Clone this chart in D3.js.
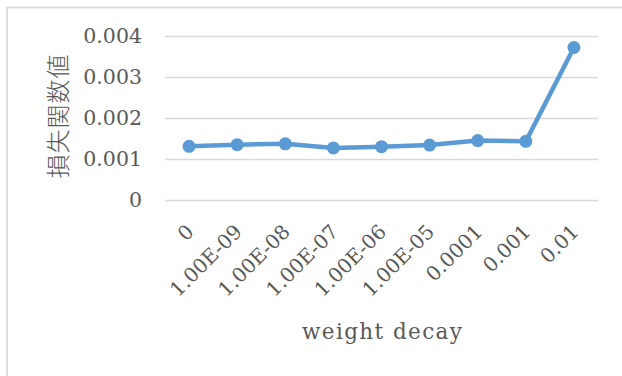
<!DOCTYPE html>
<html>
<head>
<meta charset="utf-8">
<script src="https://cdn.jsdelivr.net/npm/d3@7"></script>
<style>
  html, body { margin: 0; padding: 0; background: #fff; }
  svg { display: block; }
</style>
</head>
<body>
<svg id="chart" width="622" height="376"></svg>
<script>
// weight decay sweep vs. loss value
const categories = ["0", "1.00E-09", "1.00E-08", "1.00E-07", "1.00E-06", "1.00E-05", "0.0001", "0.001", "0.01"];
const lossValues = [0.00131, 0.00135, 0.00137, 0.00127, 0.00130, 0.00134, 0.00145, 0.00143, 0.00372];
const yTicks = [0, 0.001, 0.002, 0.003, 0.004];
const yTickLabels = ["0", "0.001", "0.002", "0.003", "0.004"];
const xTitle = "weight decay";
const yTitle = "損失関数値";

const svg = d3.select("#chart");
const textColor = "#595959";
const serif = "'DejaVu Serif', 'Liberation Serif', serif";

const plot = { left: 165, right: 598, top: 36, bottom: 200 };

// chart frame
svg.append("rect")
  .attr("x", 7).attr("y", 7.5)
  .attr("width", 800).attr("height", 600)
  .attr("fill", "none")
  .attr("stroke", "#d9d9d9")
  .attr("stroke-width", 1.8);

const x = d3.scaleBand().domain(categories).range([plot.left, plot.right]);
const y = d3.scaleLinear().domain([0, 0.004]).range([plot.bottom, plot.top]);

// horizontal gridlines + y labels
const yAxis = d3.axisLeft(y)
  .tickValues(yTicks)
  .tickSize(-(plot.right - plot.left))
  .tickPadding(23)
  .tickFormat((d, i) => yTickLabels[i]);

const gy = svg.append("g")
  .attr("transform", `translate(${plot.left},0)`)
  .call(yAxis);
gy.select(".domain").remove();
gy.selectAll(".tick line").attr("stroke", "#d9d9d9").attr("stroke-width", 1.5);
gy.selectAll(".tick text")
  .attr("fill", textColor)
  .attr("font-family", serif)
  .attr("font-size", "20.5px");

// category labels, rotated
const xAxis = d3.axisBottom(x).tickSize(0).tickPadding(0);
const gx = svg.append("g")
  .attr("transform", `translate(0,${plot.bottom})`)
  .call(xAxis);
gx.select(".domain").remove();
gx.selectAll(".tick text")
  .attr("fill", textColor)
  .attr("font-family", serif)
  .attr("font-size", "20px")
  .attr("text-anchor", "end")
  .attr("dy", null)
  .attr("y", 0)
  .attr("transform", "translate(6,33) rotate(-45)");

// axis titles
svg.append("text")
  .attr("x", 382)
  .attr("y", 339)
  .attr("text-anchor", "middle")
  .attr("fill", textColor)
  .attr("font-family", serif)
  .attr("font-size", "21.5px")
  .attr("textLength", 160)
  .attr("lengthAdjust", "spacing")
  .text(xTitle);

svg.append("text")
  .attr("transform", "translate(67,116) rotate(-90)")
  .attr("text-anchor", "middle")
  .attr("fill", textColor)
  .attr("font-family", "'Noto Sans CJK JP', sans-serif")
  .attr("font-weight", 300)
  .attr("font-size", "24px")
  .attr("letter-spacing", "1px")
  .text(yTitle);

// series line + markers
const cx = d => x(d) + x.bandwidth() / 2;
const data = categories.map((c, i) => ({ c, v: lossValues[i] }));
const color = "#5b9bd5";

svg.append("path")
  .datum(data)
  .attr("fill", "none")
  .attr("stroke", color)
  .attr("stroke-width", 4.5)
  .attr("stroke-linejoin", "round")
  .attr("stroke-linecap", "round")
  .attr("d", d3.line().x(d => cx(d.c)).y(d => y(d.v)));

svg.selectAll("circle.pt")
  .data(data)
  .join("circle")
  .attr("class", "pt")
  .attr("cx", d => cx(d.c))
  .attr("cy", d => y(d.v))
  .attr("r", 6.5)
  .attr("fill", color);
</script>
</body>
</html>
